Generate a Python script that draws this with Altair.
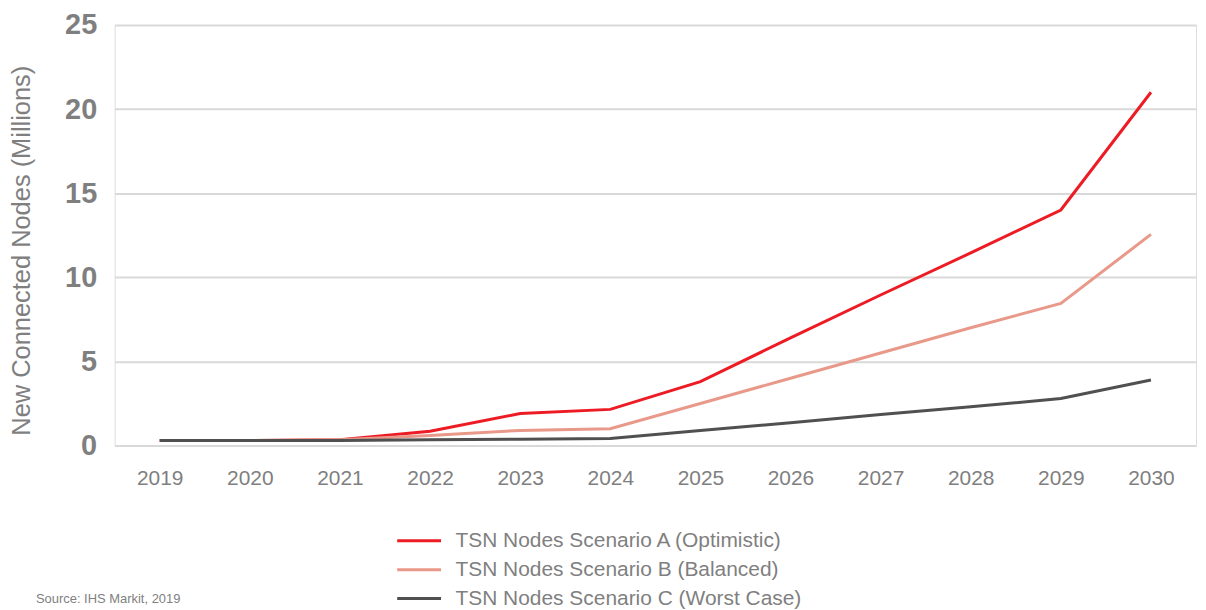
import altair as alt
import pandas as pd

years = ["2019", "2020", "2021", "2022", "2023", "2024", "2025", "2026", "2027", "2028", "2029", "2030"]
series_names = [
    "TSN Nodes Scenario A (Optimistic)",
    "TSN Nodes Scenario B (Balanced)",
    "TSN Nodes Scenario C (Worst Case)",
]
scenario_a = [0.3, 0.3, 0.35, 0.85, 1.9, 2.15, 3.8, 6.4, 8.95, 11.45, 14.0, 21.0]
scenario_b = [0.3, 0.3, 0.35, 0.6, 0.9, 1.0, 2.5, 4.0, 5.5, 7.0, 8.45, 12.55]
scenario_c = [0.3, 0.3, 0.3, 0.35, 0.38, 0.42, 0.9, 1.35, 1.85, 2.3, 2.8, 3.9]
colors = ["#ED1C24", "#E8998A", "#505050"]
y_ticks = [0, 5, 10, 15, 20, 25]
source_text = "Source: IHS Markit, 2019"

rows = []
for name, vals in zip(series_names, [scenario_a, scenario_b, scenario_c]):
    for yr, v in zip(years, vals):
        rows.append({"Year": yr, "Value": v, "Scenario": name})
df = pd.DataFrame(rows)

GRAY = "#7f7f7f"
FONT = "Liberation Sans"

lines = alt.Chart(df).mark_line(strokeWidth=3).encode(
    x=alt.X("Year:N", sort=years,
            axis=alt.Axis(title=None, labelAngle=0, labelFontSize=21, labelColor=GRAY,
                          labelFont=FONT, labelPadding=22, domain=False, ticks=False,
                          grid=False)),
    y=alt.Y("Value:Q", scale=alt.Scale(domain=[0, 25], nice=False),
            axis=alt.Axis(values=y_ticks, title="New Connected Nodes (Millions)",
                          titleFontSize=25.5, titleFontWeight="normal", titleColor=GRAY,
                          titleFont=FONT, titleX=-93, titleY=226, titleAngle=270,
                          titleBaseline="middle", titleAlign="center",
                          labelFontSize=29, labelFontWeight="bold", labelColor=GRAY,
                          labelFont=FONT, labelPadding=18, domain=False, ticks=False,
                          grid=True, gridColor="#d9d9d9", gridWidth=2)),
    color=alt.Color("Scenario:N", sort=series_names,
                    scale=alt.Scale(domain=series_names, range=colors),
                    legend=alt.Legend(title=None, orient="none", legendX=293, legendY=505,
                                      symbolType="M-2,0L2,0", symbolSize=484,
                                      symbolStrokeWidth=3, labelFontSize=21,
                                      labelColor=GRAY, labelFont=FONT, rowPadding=6,
                                      labelOffset=24, labelLimit=0, padding=0,
                                      direction="vertical")),
)

src = alt.Chart(pd.DataFrame({"t": [source_text]})).mark_text(
    align="left", baseline="middle", fontSize=13, color=GRAY, font=FONT
).encode(x=alt.value(-79), y=alt.value(576), text="t:N")

chart = alt.layer(lines, src).properties(
    width=1085, height=422,
    autosize=alt.AutoSizeParams(type="none"),
    padding={"left": 107, "top": 16, "right": 2, "bottom": 170},
).configure_view(stroke=None).configure(background="white")

chart.save("out.html", embed_options={"renderer": "svg", "actions": False})
